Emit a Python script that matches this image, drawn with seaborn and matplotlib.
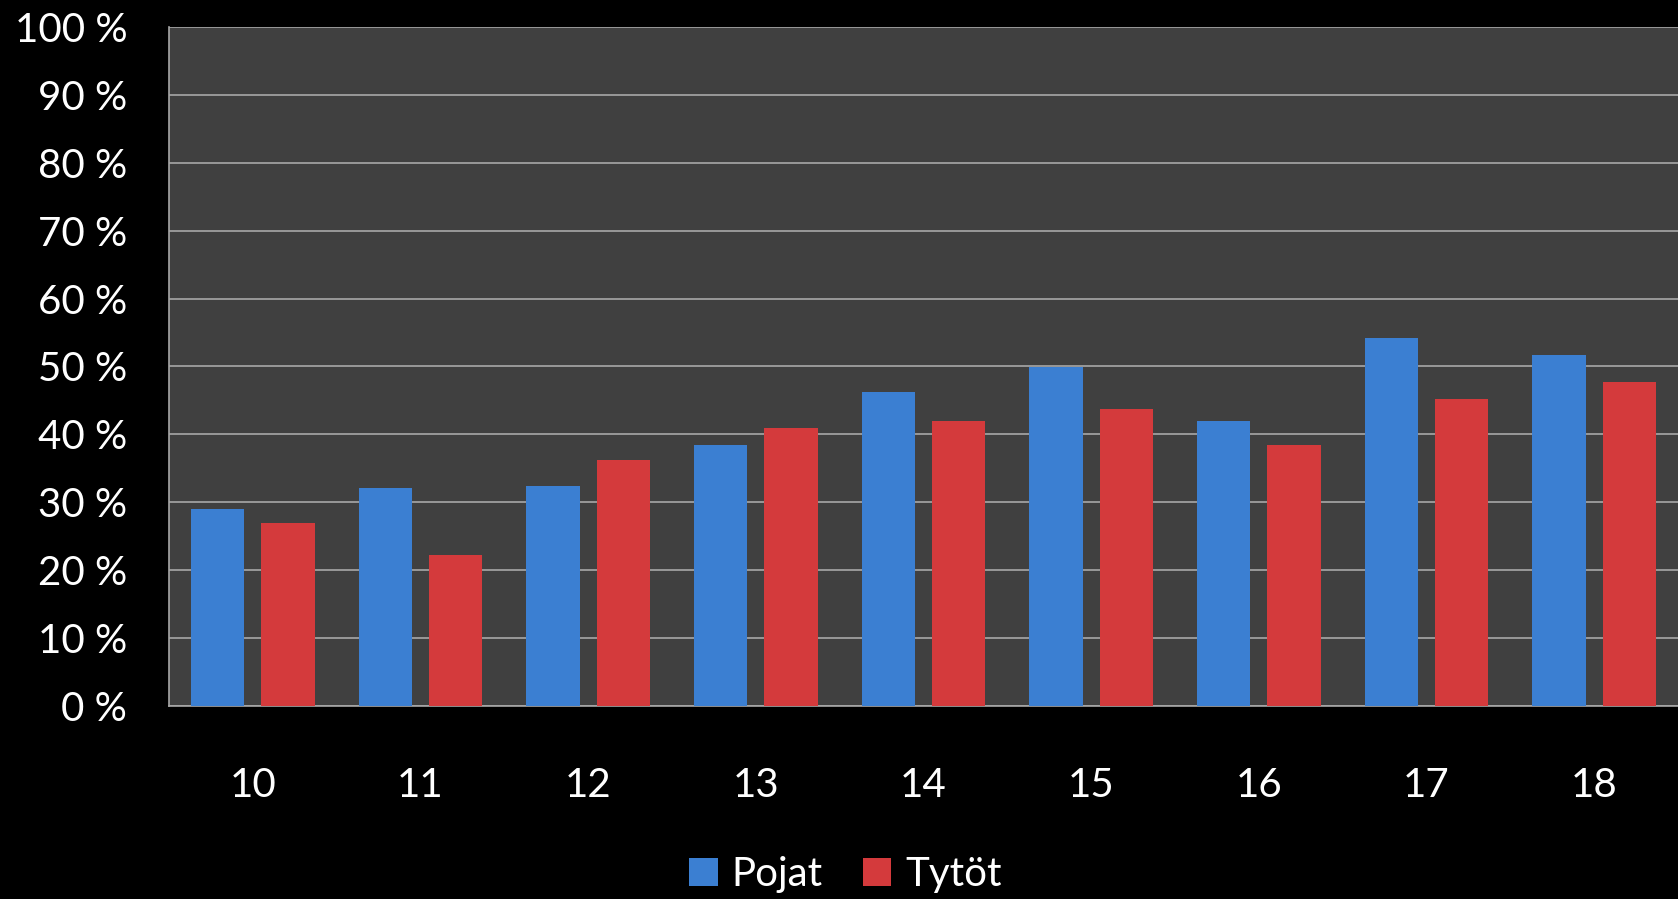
import pandas as pd
import matplotlib.pyplot as plt
import seaborn as sns
from matplotlib.ticker import FuncFormatter

# ===============================
# Data
# ===============================
ages = ["10", "11", "12", "13", "14", "15", "16", "17", "18"]
pojat = [29.0, 32.1, 32.4, 38.4, 46.3, 49.9, 41.9, 54.2, 51.7]
tytot = [26.9, 22.2, 36.2, 40.9, 41.9, 43.8, 38.4, 45.2, 47.7]

df = pd.DataFrame({
    "age": ages * 2,
    "value": pojat + tytot,
    "group": ["Pojat"] * len(ages) + ["Tytöt"] * len(ages),
})

sns.set_style("dark")
plt.rcParams["font.family"] = ["Lato", "DejaVu Sans"]

fig = plt.figure(figsize=(16.78, 8.99), dpi=100, facecolor="black")
ax = fig.add_axes([0.1007, 0.2147, 0.8993, 0.7553])
ax.set_facecolor("#404040")

sns.barplot(data=df, x="age", y="value", hue="group", ax=ax,
            palette={"Pojat": "#3b7fd2", "Tytöt": "#d43a3c"},
            width=0.84, gap=0.24, saturation=1, edgecolor="none",
            zorder=3)

ax.set_ylim(0, 100)
ax.set_xlim(-0.5, len(ages) - 0.5)
ax.set_yticks(range(0, 101, 10))
ax.yaxis.set_major_formatter(FuncFormatter(lambda v, p: f"{int(v)} %"))
ax.grid(axis="y", color="#a8a8a8", linewidth=1.2, zorder=0)
ax.grid(axis="x", visible=False)
ax.set_axisbelow(True)

for s in ["top", "right"]:
    ax.spines[s].set_visible(False)
for s in ["left", "bottom"]:
    ax.spines[s].set_visible(True)
    ax.spines[s].set_color("#a8a8a8")
    ax.spines[s].set_linewidth(1.2)

ax.tick_params(axis="y", length=0, pad=30, labelsize=29, labelcolor="white")
ax.tick_params(axis="x", length=0, pad=44, labelsize=29, labelcolor="white")
ax.set_xlabel("")
ax.set_ylabel("")

handles, labels = ax.get_legend_handles_labels()
ax.legend_.remove()
fig.legend(handles, labels, loc="center", bbox_to_anchor=(0.504, 0.027),
           ncol=2, frameon=False, fontsize=29, labelcolor="white",
           handlelength=0.7, handleheight=0.7, handletextpad=0.35,
           columnspacing=1.0)

plt.savefig("out.png", dpi=100, facecolor="black")
plt.close()
